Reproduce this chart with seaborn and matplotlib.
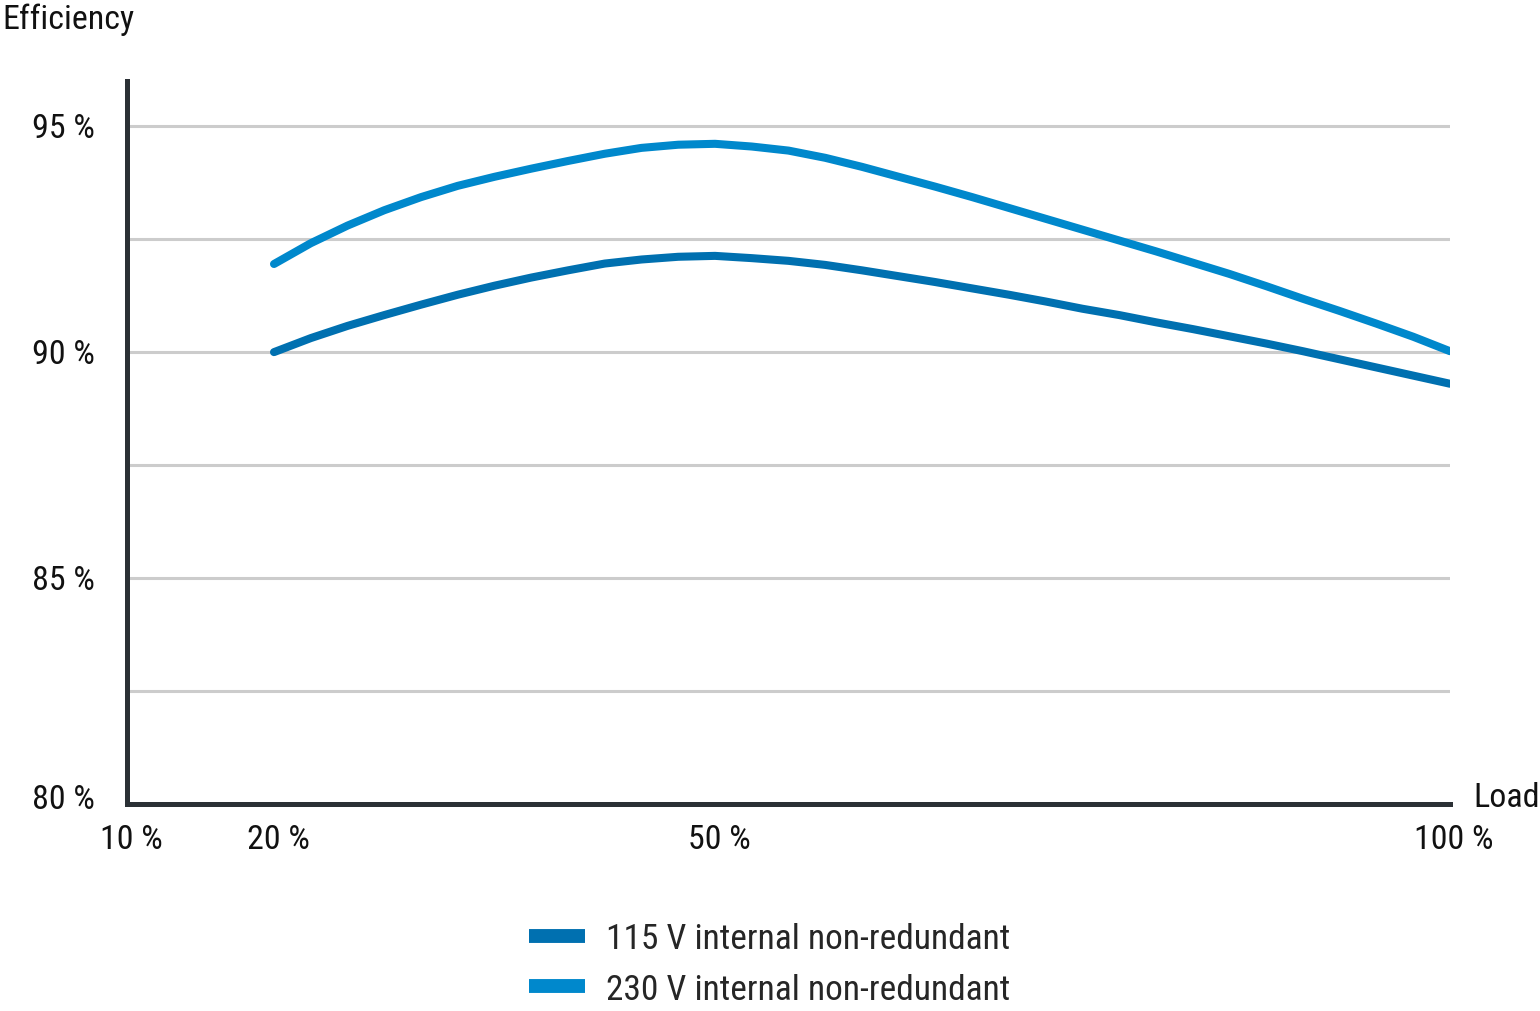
import numpy as np
import pandas as pd
import matplotlib
matplotlib.use("Agg")
import matplotlib.pyplot as plt
import matplotlib.transforms as mtransforms
from matplotlib.lines import Line2D
import seaborn as sns

# ---- data ----
load = [20, 22.5, 25, 27.5, 30, 32.5, 35, 37.5, 40, 42.5, 45, 47.5, 50, 52.5, 55,
        57.5, 60, 62.5, 65, 67.5, 70, 72.5, 75, 77.5, 80, 82.5, 85, 87.5, 90,
        92.5, 95, 97.5, 100]
eff_115 = [90.00, 90.31, 90.58, 90.82, 91.05, 91.27, 91.47, 91.65, 91.81, 91.96,
           92.05, 92.11, 92.13, 92.08, 92.02, 91.93, 91.81, 91.68, 91.55, 91.41,
           91.27, 91.12, 90.96, 90.82, 90.66, 90.51, 90.35, 90.19, 90.02, 89.84,
           89.66, 89.48, 89.30]
eff_230 = [91.95, 92.41, 92.80, 93.14, 93.43, 93.68, 93.88, 94.06, 94.23, 94.39,
           94.52, 94.59, 94.61, 94.55, 94.46, 94.30, 94.10, 93.88, 93.66, 93.43,
           93.19, 92.95, 92.71, 92.47, 92.23, 91.98, 91.73, 91.46, 91.18, 90.91,
           90.63, 90.34, 90.02]
series_names = ["115 V internal non-redundant", "230 V internal non-redundant"]
series_colors = ["#0070b0", "#0088cc"]
x_ticks = [10, 20, 50, 100]
x_tick_labels = ["10 %", "20 %", "50 %", "100 %"]
y_ticks = [80, 85, 90, 95]
y_tick_labels = ["80 %", "85 %", "90 %", "95 %"]
y_minor = [82.5, 87.5, 92.5]

df = pd.DataFrame({
    "Load": load * 2,
    "Efficiency": eff_115 + eff_230,
    "Series": [series_names[0]] * len(load) + [series_names[1]] * len(load),
})

sns.set_theme(style="white")
plt.rcParams["font.family"] = ["Roboto Condensed", "Liberation Sans Narrow", "DejaVu Sans"]

fig = plt.figure(figsize=(15.4, 10.12), dpi=100)
ax = fig.add_axes([127 / 1540, 1 - 805 / 1012, (1450 - 127) / 1540, (805 - 82) / 1012])

sns.lineplot(data=df, x="Load", y="Efficiency", hue="Series",
             palette=dict(zip(series_names, series_colors)),
             linewidth=5.8, legend=False, ax=ax, sort=True)
for ln in ax.lines:
    ln.set_solid_capstyle("round")
    ln.set_solid_joinstyle("round")
    ln.set_zorder(3)

ax.set_xlim(10, 100)
ax.set_ylim(80, 96)

ax.set_xticks(x_ticks)
ax.set_xticklabels(x_tick_labels)
ax.set_yticks(y_ticks)
ax.set_yticklabels(y_tick_labels)

ax.grid(False)
for v in y_ticks[1:] + y_minor:
    ax.axhline(v, color="#cccccc", lw=2.2, zorder=1)

ax.tick_params(axis="both", which="both", length=0, labelsize=24.5, colors="#111111")
ax.tick_params(axis="y", pad=23)
ax.tick_params(axis="x", pad=14)

# small nudges of tick labels, as in the reference
for lab in ax.get_xticklabels():
    lab.set_transform(lab.get_transform() +
                      mtransforms.ScaledTranslation(4 / 100, 0, fig.dpi_scale_trans))
ylabs = ax.get_yticklabels()
ylabs[0].set_transform(ylabs[0].get_transform() +
                       mtransforms.ScaledTranslation(0, 8 / 100, fig.dpi_scale_trans))
for lab in ylabs[1:]:
    lab.set_transform(lab.get_transform() +
                      mtransforms.ScaledTranslation(0, 2 / 100, fig.dpi_scale_trans))

for s in ["top", "right"]:
    ax.spines[s].set_visible(False)
for s in ["left", "bottom"]:
    ax.spines[s].set_color("#2b3035")
    ax.spines[s].set_linewidth(3.6)
    ax.spines[s].set_zorder(4)

ax.set_xlabel("")
ax.set_ylabel("")

fig.text(2 / 1540, 1 - 20 / 1012, "Efficiency", ha="left", va="center",
         fontsize=24.5, color="#111111")
fig.text(1473 / 1540, 1 - 798 / 1012, "Load", ha="left", va="center",
         fontsize=24.5, color="#111111")

handles = [Line2D([0], [0], color=c, lw=10, solid_capstyle="butt") for c in series_colors]
fig.legend(handles, series_names, loc="center", bbox_to_anchor=(0.5, 1 - 965 / 1012),
           frameon=False, fontsize=25.5, handlelength=1.58, handletextpad=0.6,
           labelspacing=0.5, borderpad=0)

fig.savefig("out.png", dpi=100)
